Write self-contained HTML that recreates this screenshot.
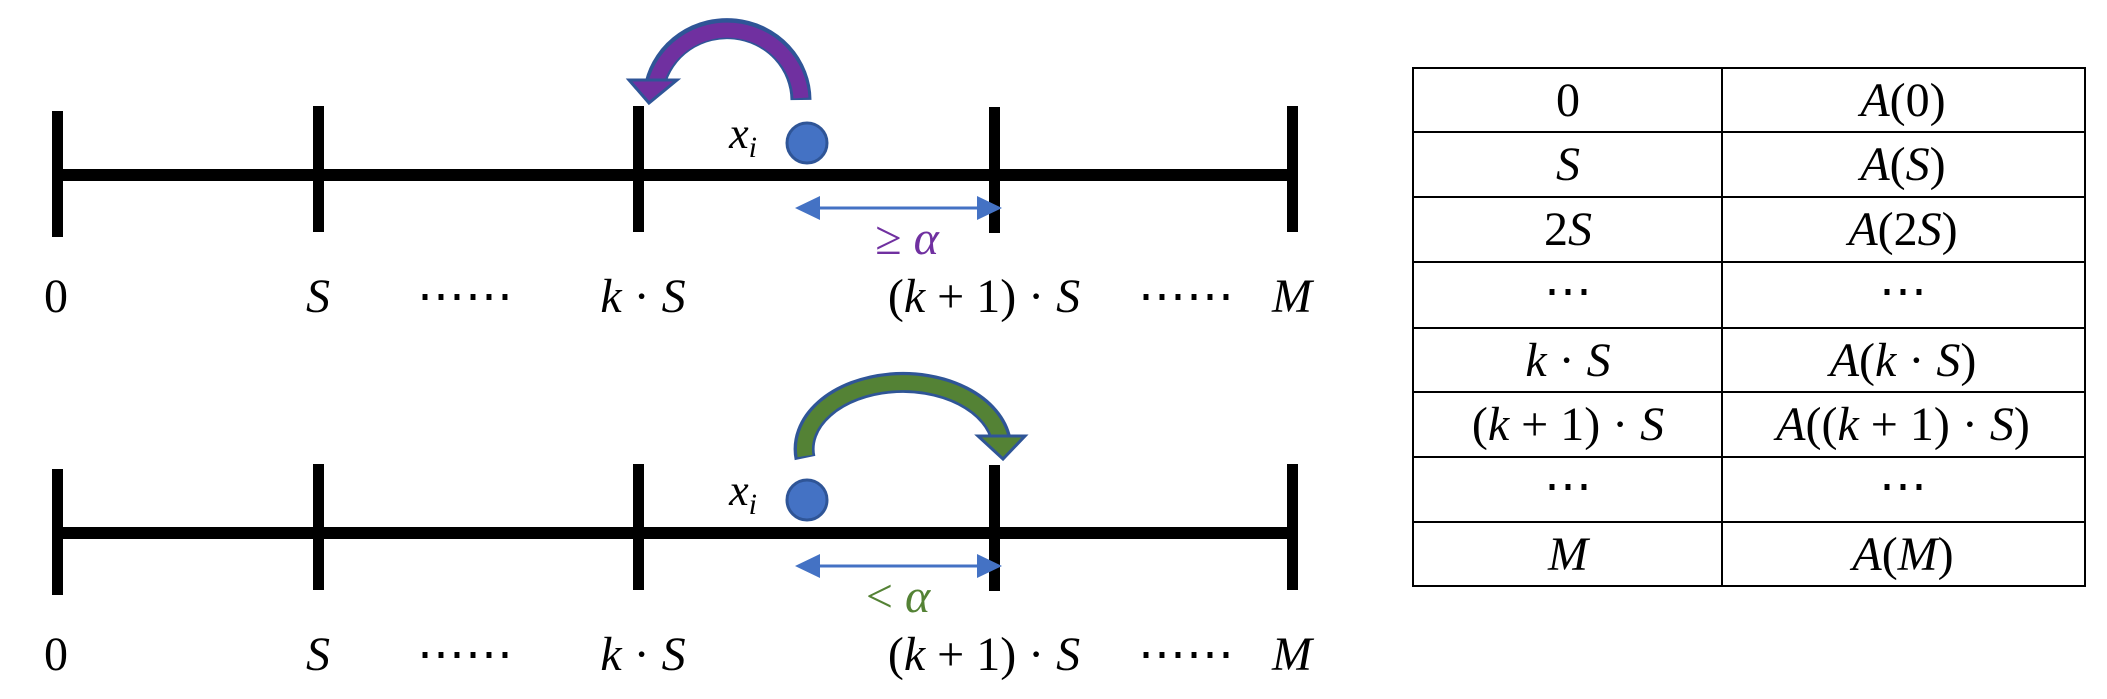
<!DOCTYPE html>
<html><head><meta charset="utf-8"><style>
html,body{margin:0;padding:0;background:#fff;}
svg{display:block;}
text{font-family:"Liberation Serif","DejaVu Serif",serif;font-size:48px;}
.i{font-style:italic;}
</style></head><body>
<svg width="2107" height="699" viewBox="0 0 2107 699" xmlns="http://www.w3.org/2000/svg">
<defs>
<g id="axis">
<rect x="56" y="-6" width="1238" height="12" fill="#000"/>
<rect x="52" y="-64" width="11" height="126" fill="#000"/>
<rect x="313" y="-69" width="11" height="126" fill="#000"/>
<rect x="633" y="-69" width="11" height="126" fill="#000"/>
<rect x="989" y="-68" width="11" height="126" fill="#000"/>
<rect x="1287" y="-69" width="11" height="126" fill="#000"/>
</g>
<g id="labels">
<text x="56" y="0" text-anchor="middle">0</text>
<text x="318" y="0" text-anchor="middle" class="i">S</text>
<text x="465" y="0" text-anchor="middle">⋯⋯</text>
<text x="643" y="0" text-anchor="middle"><tspan class="i">k</tspan> · <tspan class="i">S</tspan></text>
<text x="984" y="0" text-anchor="middle">(<tspan class="i">k</tspan> + 1) · <tspan class="i">S</tspan></text>
<text x="1186" y="0" text-anchor="middle">⋯⋯</text>
<text x="1292" y="0" text-anchor="middle" class="i">M</text>
</g>
</defs>

<!-- top -->
<use href="#axis" y="175"/>
<use href="#labels" y="312"/>
<circle cx="807" cy="143" r="20" fill="#4472C4" stroke="#2F5597" stroke-width="3"/>
<text x="743" y="148" text-anchor="middle" class="i" style="font-size:44px">x<tspan style="font-size:30px" dy="9">i</tspan></text>
<path d="M801,100 A74,72 0 0 0 655,84" fill="none" stroke="#2F5597" stroke-width="21"/>
<path d="M801,98 A74,72 0 0 0 655,86" fill="none" stroke="#7030A0" stroke-width="15"/>
<polygon points="629,80 677,80 649,103" fill="#7030A0" stroke="#2F5597" stroke-width="3"/>
<line x1="815" y1="208" x2="982" y2="208" stroke="#4472C4" stroke-width="3"/>
<polygon points="795,208 820,196 820,220" fill="#4472C4"/>
<polygon points="1002,208 977,196 977,220" fill="#4472C4"/>
<text x="907" y="254" text-anchor="middle" fill="#7030A0">≥ <tspan class="i">α</tspan></text>

<!-- bottom -->
<use href="#axis" y="533"/>
<use href="#labels" y="670"/>
<circle cx="807" cy="500" r="20" fill="#4472C4" stroke="#2F5597" stroke-width="3"/>
<text x="743" y="505" text-anchor="middle" class="i" style="font-size:44px">x<tspan style="font-size:30px" dy="9">i</tspan></text>
<path d="M805,458 A98,66 0 0 1 1001,440" fill="none" stroke="#2F5597" stroke-width="21"/>
<path d="M805,456 A98,66 0 0 1 1001,442" fill="none" stroke="#548235" stroke-width="15"/>
<polygon points="978,436 1025,436 1003,459" fill="#548235" stroke="#2F5597" stroke-width="3"/>
<line x1="815" y1="566" x2="982" y2="566" stroke="#4472C4" stroke-width="3"/>
<polygon points="795,566 820,554 820,578" fill="#4472C4"/>
<polygon points="1002,566 977,554 977,578" fill="#4472C4"/>
<text x="898" y="612" text-anchor="middle" fill="#548235">&lt; <tspan class="i">α</tspan></text>

<!-- table -->
<g stroke="#000" stroke-width="2" fill="none">
<rect x="1413" y="68" width="672" height="518"/>
<line x1="1722" y1="68" x2="1722" y2="586"/>
<line x1="1413" y1="132" x2="2085" y2="132"/>
<line x1="1413" y1="197" x2="2085" y2="197"/>
<line x1="1413" y1="262" x2="2085" y2="262"/>
<line x1="1413" y1="328" x2="2085" y2="328"/>
<line x1="1413" y1="392" x2="2085" y2="392"/>
<line x1="1413" y1="457" x2="2085" y2="457"/>
<line x1="1413" y1="522" x2="2085" y2="522"/>
</g>
<g style="font-size:48px" text-anchor="middle">
<text x="1568" y="116">0</text>
<text x="1903" y="116"><tspan class="i">A</tspan>(0)</text>
<text x="1568" y="180" class="i">S</text>
<text x="1903" y="180"><tspan class="i">A</tspan>(<tspan class="i">S</tspan>)</text>
<text x="1568" y="245">2<tspan class="i">S</tspan></text>
<text x="1903" y="245"><tspan class="i">A</tspan>(2<tspan class="i">S</tspan>)</text>
<text x="1568" y="307">⋯</text>
<text x="1903" y="307">⋯</text>
<text x="1568" y="376"><tspan class="i">k</tspan> · <tspan class="i">S</tspan></text>
<text x="1903" y="376"><tspan class="i">A</tspan>(<tspan class="i">k</tspan> · <tspan class="i">S</tspan>)</text>
<text x="1568" y="440">(<tspan class="i">k</tspan> + 1) · <tspan class="i">S</tspan></text>
<text x="1903" y="440"><tspan class="i">A</tspan>((<tspan class="i">k</tspan> + 1) · <tspan class="i">S</tspan>)</text>
<text x="1568" y="502">⋯</text>
<text x="1903" y="502">⋯</text>
<text x="1568" y="570" class="i">M</text>
<text x="1903" y="570"><tspan class="i">A</tspan>(<tspan class="i">M</tspan>)</text>
</g>
</svg>
</body></html>
